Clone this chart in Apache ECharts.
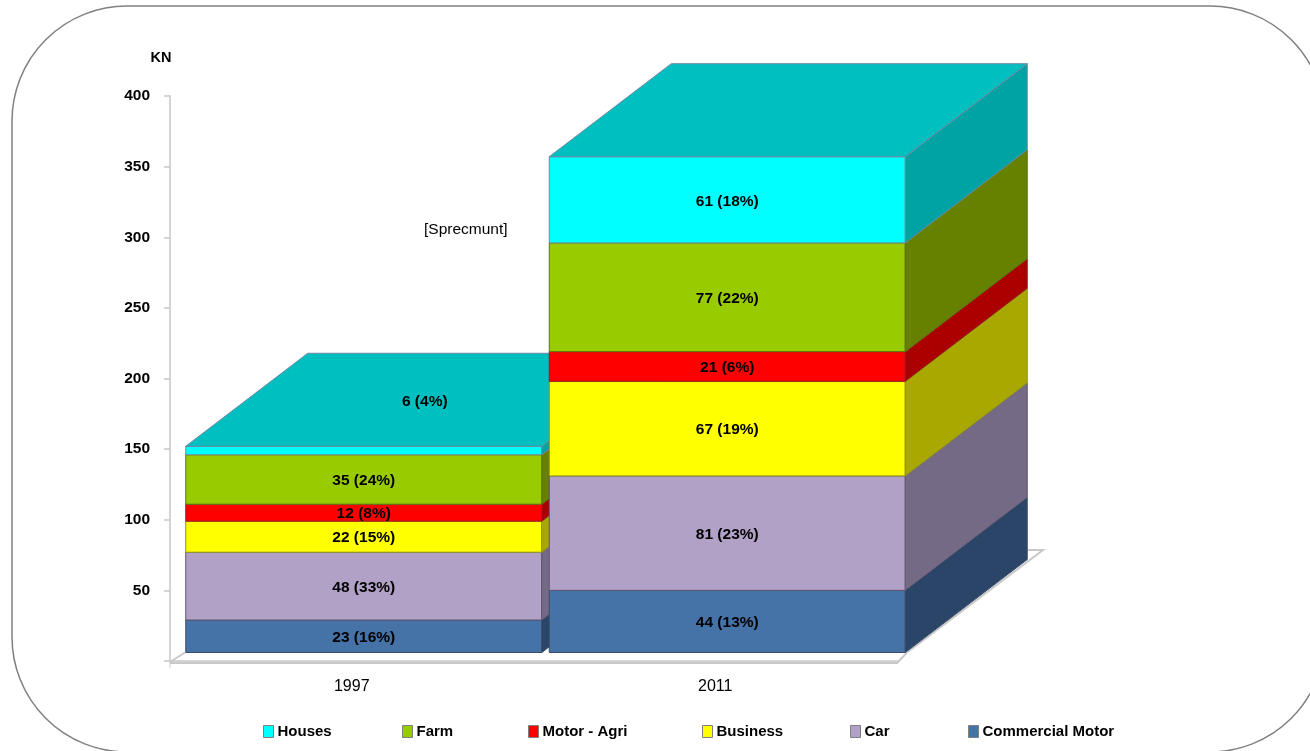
<!DOCTYPE html>
<html>
<head>
<meta charset="utf-8">
<style>html,body{margin:0;padding:0;background:#fff}#chart{width:1310px;height:751px;filter:blur(0.5px)}</style>
<script src="https://cdn.jsdelivr.net/npm/echarts@6/dist/echarts.min.js"></script>
</head>
<body>
<div id="chart"></div>
<script>
// Stack layers, listed bottom to top
const categories = ['1997', '2011'];
const layerNames = ['Commercial Motor', 'Car', 'Business', 'Motor - Agri', 'Farm', 'Houses'];
const commercialMotor = [23, 44];
const car = [48, 81];
const business = [22, 67];
const motorAgri = [12, 21];
const farm = [35, 77];
const houses = [6, 61];
const commercialMotorPct = [16, 13];
const carPct = [33, 23];
const businessPct = [15, 19];
const motorAgriPct = [8, 6];
const farmPct = [24, 22];
const housesPct = [4, 18];
const legendOrder = ['Houses', 'Farm', 'Motor - Agri', 'Business', 'Car', 'Commercial Motor'];
const yTicks = [0, 50, 100, 150, 200, 250, 300, 350, 400];

const layerValues = [commercialMotor, car, business, motorAgri, farm, houses];
const layerPct = [commercialMotorPct, carPct, businessPct, motorAgriPct, farmPct, housesPct];
const frontColors = ['#4572A7', '#B2A1C7', '#FFFF00', '#FF0000', '#99CC00', '#00FFFF'];
const sideColors = ['#2A4568', '#756A85', '#A8A800', '#AA0000', '#668000', '#00A3A3'];
const edgeColors = ['#3A4C68', '#5F5670', '#8F8F20', '#8F2020', '#5C7010', '#6F88A0'];
const capColor = '#00BFC0';
const legendLefts = [258, 397, 523, 697, 845, 963];

const FONT = '"Liberation Sans", Arial, sans-serif';
const GRID = { left: 170, top: 96, width: 727, height: 565 };
const DEPTH_X = 122, DEPTH_Y = -93;   // oblique direction of the box depth
const BAR_W = 356, BAR_SHIFT = 12, LIFT = 8.5;   // box placement on the floor

function poly(points, fill, stroke, z2) {
  return { type: 'polygon', z2, shape: { points }, style: { fill, stroke, lineWidth: 1 } };
}

// One stacked box segment: front, side, optional cap and its value text
function renderSegment(layer) {
  return function (params, api) {
    const cat = api.value(0), low = api.value(1), high = api.value(2);
    const a = api.coord([cat, low]), b = api.coord([cat, high]);
    const l = a[0] + BAR_SHIFT - BAR_W / 2, r = l + BAR_W;
    const y0 = a[1] - LIFT, y1 = b[1] - LIFT;
    const z = 10 + cat * 100;
    const edge = edgeColors[layer];
    const text = api.value(3) + ' (' + api.value(4) + '%)';
    const children = [
      poly([[l, y0], [r, y0], [r, y1], [l, y1]], frontColors[layer], edge, z),
      poly([[r, y0], [r + DEPTH_X, y0 + DEPTH_Y], [r + DEPTH_X, y1 + DEPTH_Y], [r, y1]], sideColors[layer], edge, z)
    ];
    const isTop = layer === layerNames.length - 1;
    if (isTop) {
      children.push(poly([[l, y1], [l + DEPTH_X, y1 + DEPTH_Y], [r + DEPTH_X, y1 + DEPTH_Y], [r, y1]], capColor, edge, z));
    }
    // A segment too thin for its text carries the text on the cap instead
    const thin = y0 - y1 < 12;
    const tx = (l + r) / 2 + (thin ? DEPTH_X / 2 : 0);
    const ty = (thin ? y1 + DEPTH_Y / 2 : (y0 + y1) / 2) + 1.5;
    children.push({
      type: 'text', z2: z + 50,
      style: { x: tx, y: ty, text, fill: '#000', font: 'bold 15.5px ' + FONT, align: 'center', verticalAlign: 'middle' }
    });
    return { type: 'group', children };
  };
}

// Floor outline under the boxes
function renderFloor(params) {
  const c = params.coordSys;
  const x = c.x, b = c.y + c.height, r = c.x + c.width;
  const stroke = { stroke: '#c8c8c8', lineWidth: 2, fill: null };
  return {
    type: 'group',
    children: [
      { type: 'polyline', z2: 1, shape: { points: [[x, b + 1], [x + 15, b - LIFT]] }, style: stroke },
      { type: 'polyline', z2: 1, shape: { points: [[x, b + 2], [r, b + 2], [r + 10, b - LIFT]] }, style: stroke },
      { type: 'polyline', z2: 1, shape: { points: [[r + 10, b - LIFT], [r + 10 + 136, b - 111], [r + 131, b - 111]] }, style: stroke },
      { type: 'line', z2: 1, shape: { x1: x, y1: b, x2: x, y2: b + 7 }, style: { stroke: '#c8c8c8', lineWidth: 1 } }
    ]
  };
}

const segmentSeries = layerNames.map((name, i) => ({
  name,
  type: 'custom',
  coordinateSystem: 'cartesian2d',
  renderItem: renderSegment(i),
  encode: { x: 0, y: [1, 2] },
  itemStyle: { color: frontColors[i] },
  z: 3,
  silent: true,
  clip: false,
  data: categories.map((_, c) => {
    let base = 0;
    for (let k = 0; k < i; k++) base += layerValues[k][c];
    return [c, base, base + layerValues[i][c], layerValues[i][c], layerPct[i][c]];
  })
}));

const chart = echarts.init(document.getElementById('chart'));
chart.setOption({
  animation: false,
  backgroundColor: '#fff',
  grid: GRID,
  graphic: [
    { type: 'rect', silent: true, z: -1, shape: { x: 12, y: 6, width: 1313, height: 746, r: 115 },
      style: { fill: '#fff', stroke: '#808080', lineWidth: 1.5 } },
    { type: 'text', z: 5, left: 424, top: 222,
      style: { text: '[Sprecmunt]', fill: '#000', font: '15.5px ' + FONT } }
  ],
  // Each entry is placed on its own so the uneven spacing stays as laid out
  legend: legendOrder.map((name, i) => ({
    data: [name], left: legendLefts[i], top: 719, itemWidth: 10, itemHeight: 12,
    icon: 'rect', selectedMode: false,
    itemStyle: { borderColor: '#808080', borderWidth: 1 },
    textStyle: { color: '#000', fontFamily: FONT, fontWeight: 'bold', fontSize: 15, padding: [0, 0, 0, -1] }
  })),
  xAxis: {
    type: 'category', data: categories,
    axisLine: { lineStyle: { color: '#d4d4d4', width: 2 } },
    axisTick: { show: false },
    axisLabel: { color: '#000', fontFamily: FONT, fontSize: 16, margin: 18 }
  },
  yAxis: {
    type: 'value', min: yTicks[0], max: yTicks[yTicks.length - 1], interval: yTicks[1] - yTicks[0],
    name: 'KN', nameLocation: 'end', nameGap: 31,
    nameTextStyle: { color: '#000', fontFamily: FONT, fontWeight: 'bold', fontSize: 14.5, align: 'center', padding: [0, 18, 0, 0] },
    splitLine: { show: false },
    axisLine: { show: true, lineStyle: { color: '#d4d4d4', width: 2 } },
    axisTick: { show: true, length: 6, lineStyle: { color: '#c8c8c8', width: 1.5 } },
    axisLabel: { color: '#000', fontFamily: FONT, fontWeight: 'bold', fontSize: 15.5, margin: 20, padding: [2, 0, 0, 0],
      formatter: v => (v === 0 ? '' : String(v)) }
  },
  series: [
    { type: 'custom', name: 'floor', coordinateSystem: 'cartesian2d', renderItem: renderFloor,
      data: [[0, 0]], silent: true, z: 3, clip: false, encode: { x: 0, y: 1 } }
  ].concat(segmentSeries)
});
</script>
</body>
</html>
